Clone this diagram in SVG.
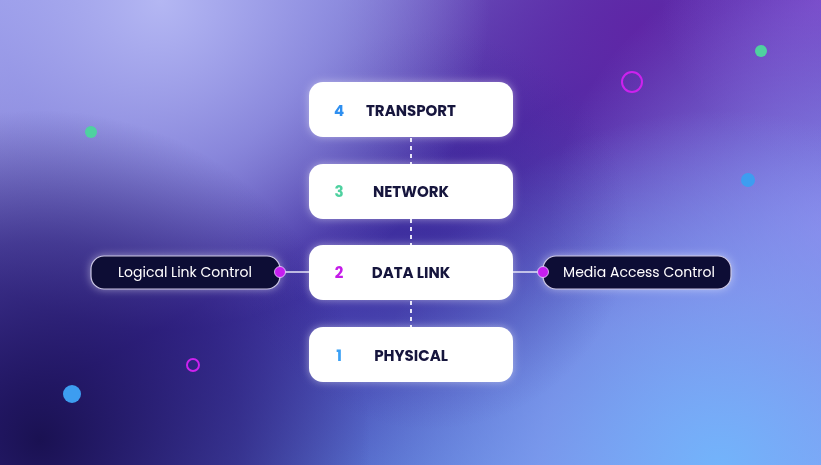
<svg xmlns="http://www.w3.org/2000/svg" width="821" height="465" viewBox="0 0 821 465">
<defs>
<linearGradient id="bg" x1="0" y1="0" x2="1" y2="1">
<stop offset="0" stop-color="#a6a8ee"/>
<stop offset="0.45" stop-color="#3f2c9f"/>
<stop offset="1" stop-color="#6fb0fa"/>
</linearGradient>
<radialGradient id="tl" cx="160" cy="0" r="330" gradientUnits="userSpaceOnUse">
<stop offset="0" stop-color="#b4b7f3" stop-opacity="1"/>
<stop offset="0.5" stop-color="#9a9cea" stop-opacity="0.7"/>
<stop offset="1" stop-color="#9a9cea" stop-opacity="0"/>
</radialGradient>
<radialGradient id="tr" cx="640" cy="30" r="300" gradientUnits="userSpaceOnUse">
<stop offset="0" stop-color="#5f26a6" stop-opacity="1"/>
<stop offset="1" stop-color="#6a2fb0" stop-opacity="0"/>
</radialGradient>
<radialGradient id="trc" cx="821" cy="0" r="160" gradientUnits="userSpaceOnUse">
<stop offset="0" stop-color="#8048cc" stop-opacity="0.8"/>
<stop offset="1" stop-color="#8048cc" stop-opacity="0"/>
</radialGradient>
<radialGradient id="mid" cx="430" cy="230" r="200" gradientUnits="userSpaceOnUse">
<stop offset="0" stop-color="#3a2798" stop-opacity="0.55"/>
<stop offset="1" stop-color="#3a2798" stop-opacity="0"/>
</radialGradient>
<radialGradient id="rm" cx="830" cy="230" r="280" gradientUnits="userSpaceOnUse">
<stop offset="0" stop-color="#8f86ec" stop-opacity="0.9"/>
<stop offset="1" stop-color="#8f86ec" stop-opacity="0"/>
</radialGradient>
<radialGradient id="br" cx="720" cy="470" r="360" gradientUnits="userSpaceOnUse">
<stop offset="0" stop-color="#72b4fb" stop-opacity="1"/>
<stop offset="0.5" stop-color="#83a0f3" stop-opacity="0.7"/>
<stop offset="1" stop-color="#83a0f3" stop-opacity="0"/>
</radialGradient>
<radialGradient id="bl" cx="40" cy="440" r="330" gradientUnits="userSpaceOnUse">
<stop offset="0" stop-color="#1a1152" stop-opacity="1"/>
<stop offset="0.6" stop-color="#261a70" stop-opacity="0.6"/>
<stop offset="1" stop-color="#261a70" stop-opacity="0"/>
</radialGradient>
<filter id="soft" x="-20%" y="-40%" width="140%" height="180%">
<feGaussianBlur in="SourceAlpha" stdDeviation="4" result="b"/>
<feFlood flood-color="#ffffff" flood-opacity="0.45"/>
<feComposite operator="in" in2="b" result="g"/>
<feMerge><feMergeNode in="g"/><feMergeNode in="SourceGraphic"/></feMerge>
</filter>
</defs>
<style>
.box{fill:#ffffff;}
.lbl{font-family:Poppins,Inter,"Liberation Sans",sans-serif;font-weight:700;font-size:15px;fill:#15123c;text-anchor:middle;}
.num{font-family:Poppins,Inter,"Liberation Sans",sans-serif;font-weight:700;font-size:15px;text-anchor:middle;}
.pill{fill:#0e0934;stroke:#c9c6e4;stroke-width:1.2;}
.ptxt{font-family:Poppins,Inter,"Liberation Sans",sans-serif;font-size:14px;fill:#ffffff;text-anchor:middle;}
.dash{stroke:#e6e4f7;stroke-width:2;stroke-dasharray:4 4;}
.line{stroke:#e6e4f7;stroke-width:1.5;}
.dot{fill:#c61ef0;stroke:#e9d6ff;stroke-width:0.8;}
</style>
<rect width="821" height="465" fill="url(#bg)"/>
<rect width="821" height="465" fill="url(#tr)"/>
<rect width="821" height="465" fill="url(#trc)"/>
<rect width="821" height="465" fill="url(#rm)"/>
<rect width="821" height="465" fill="url(#br)"/>
<rect width="821" height="465" fill="url(#mid)"/>
<rect width="821" height="465" fill="url(#tl)"/>
<rect width="821" height="465" fill="url(#bl)"/>

<g id="decor">
<circle cx="761" cy="51" r="6" fill="#4fd1a0"/>
<circle cx="632" cy="82" r="10" fill="none" stroke="#cc22ee" stroke-width="2"/>
<circle cx="748" cy="180" r="7" fill="#3d9df0"/>
<circle cx="91" cy="132" r="6" fill="#4fd1a0"/>
<circle cx="193" cy="365" r="6" fill="none" stroke="#cc22ee" stroke-width="2"/>
<circle cx="72" cy="394" r="9" fill="#3d9df0"/>
</g>

<g id="connectors">
<line class="dash" x1="411" y1="138" x2="411" y2="164"/>
<line class="dash" x1="411" y1="219" x2="411" y2="245"/>
<line class="dash" x1="411" y1="301" x2="411" y2="327"/>
<line class="line" x1="285" y1="272" x2="309" y2="272"/>
<line class="line" x1="513" y1="272" x2="538" y2="272"/>
</g>

<g id="node-transport" filter="url(#soft)">
<rect class="box" x="309" y="82" width="204" height="55" rx="14"/>
<text class="num" x="339" y="116" fill="#2f8ff0">4</text>
<text class="lbl" x="411" y="116">TRANSPORT</text>
</g>
<g id="node-network" filter="url(#soft)">
<rect class="box" x="309" y="164" width="204" height="55" rx="14"/>
<text class="num" x="339" y="197" fill="#4fd1a0">3</text>
<text class="lbl" x="411" y="197">NETWORK</text>
</g>
<g id="node-datalink" filter="url(#soft)">
<rect class="box" x="309" y="245" width="204" height="55" rx="14"/>
<text class="num" x="339" y="278" fill="#c41de8">2</text>
<text class="lbl" x="411" y="278">DATA LINK</text>
</g>
<g id="node-physical" filter="url(#soft)">
<rect class="box" x="309" y="327" width="204" height="55" rx="14"/>
<text class="num" x="339" y="361" fill="#3aa0f5">1</text>
<text class="lbl" x="411" y="361">PHYSICAL</text>
</g>

<g id="node-llc" filter="url(#soft)">
<rect class="pill" x="91" y="256" width="189" height="33" rx="13"/>
<text class="ptxt" x="185" y="277">Logical Link Control</text>
</g>
<g id="node-mac" filter="url(#soft)">
<rect class="pill" x="543" y="256" width="188" height="33" rx="13"/>
<text class="ptxt" x="639" y="277">Media Access Control</text>
</g>
<g id="dots">
<circle class="dot" cx="280" cy="272" r="5.5"/>
<circle class="dot" cx="543" cy="272" r="5.5"/>
</g>
</svg>
